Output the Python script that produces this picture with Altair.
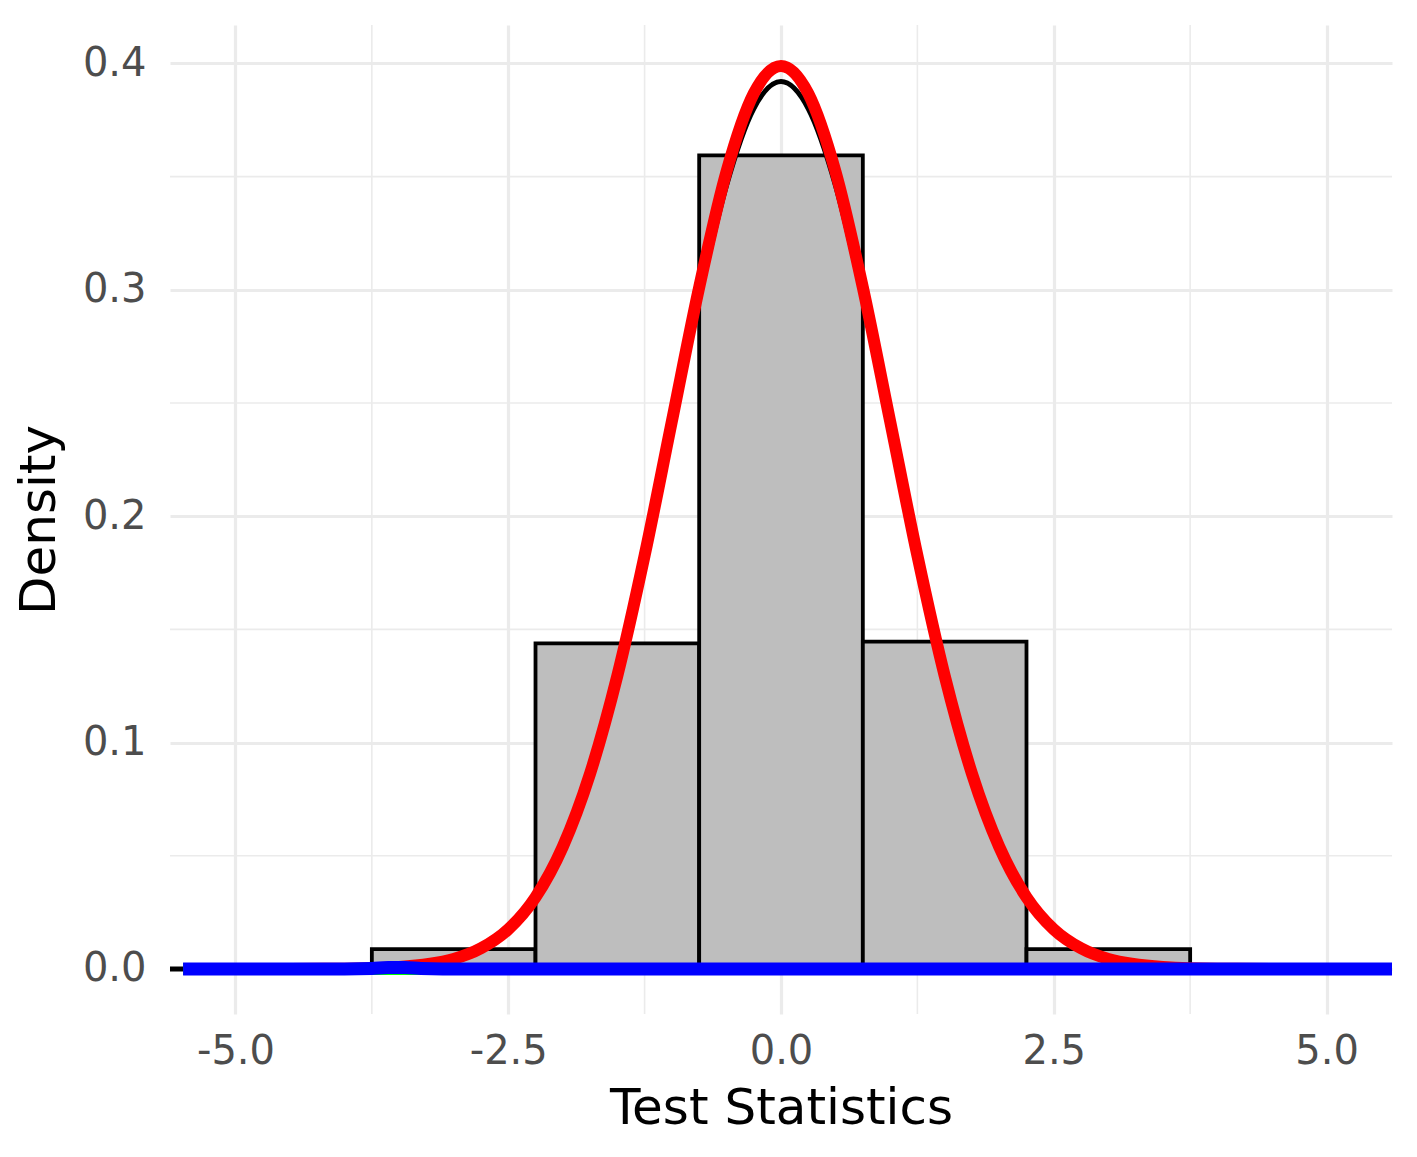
import altair as alt
import pandas as pd

# Histogram bins (Test Statistics) and densities
bin_left = [-3.75, -2.25, -0.75, 0.75, 2.25]
bin_right = [-2.25, -0.75, 0.75, 2.25, 3.75]
bin_density = [0.0088, 0.1438, 0.3594, 0.1446, 0.0088]

# Curve sample points
curve_x = [-4.5, -4.0, -3.5, -3.0, -2.75, -2.5, -2.25, -2.0, -1.75, -1.5, -1.25, -1.0, -0.75, -0.5, -0.25,
           0.0, 0.25, 0.5, 0.75, 1.0, 1.25, 1.5, 1.75, 2.0, 2.25, 2.5, 2.75, 3.0, 3.5, 4.0, 4.5]
red_y = [0.00002, 0.0001, 0.0009, 0.0044, 0.0091, 0.0175, 0.0317, 0.054, 0.0863, 0.1295, 0.1826, 0.242, 0.3011, 0.3521, 0.3867,
         0.3989, 0.3867, 0.3521, 0.3011, 0.242, 0.1826, 0.1295, 0.0863, 0.054, 0.0317, 0.0175, 0.0091, 0.0044, 0.0009, 0.0001, 0.00002]
black_y = [0.00002, 0.0002, 0.0012, 0.0050, 0.0095, 0.0178, 0.0318, 0.0538, 0.0855, 0.1280, 0.1800, 0.2385, 0.2960, 0.3460, 0.3800,
           0.3920, 0.3800, 0.3460, 0.2960, 0.2385, 0.1800, 0.1280, 0.0855, 0.0538, 0.0318, 0.0178, 0.0095, 0.0050, 0.0012, 0.0002, 0.00002]
red_ends = [-5.48, 5.6]
black_ends = [-5.6, 5.6]

blue_x = [-5.48, -4.0, -3.75, -3.6, -3.45, -3.3, -3.1, 5.6]
blue_y = [0.0, 0.0, 0.0002, 0.0006, 0.0006, 0.0002, 0.0, 0.0]
green_x = [-5.48, 5.6]
green_y = [0.0, 0.0]

x_major = [-5.0, -2.5, 0.0, 2.5, 5.0]
x_minor = [-3.75, -1.25, 1.25, 3.75]
y_major = [0.0, 0.1, 0.2, 0.3, 0.4]
y_minor = [0.05, 0.15, 0.25, 0.35]

X_DOMAIN = [-5.6, 5.6]
Y_DOMAIN = [-0.0199, 0.417]

xs = alt.Scale(domain=X_DOMAIN, nice=False, zero=False)
ys = alt.Scale(domain=Y_DOMAIN, nice=False, zero=False)

lab = "replace(format(datum.value, '.1f'), '\u2212', '-')"

hist_df = pd.DataFrame({"x": bin_left, "x2": bin_right, "y": bin_density, "y0": [0.0] * 5})
red_df = pd.DataFrame({"x": [red_ends[0]] + curve_x + [red_ends[1]], "y": [0.0] + red_y + [0.0]})
black_df = pd.DataFrame({"x": [black_ends[0]] + curve_x + [black_ends[1]], "y": [0.0] + black_y + [0.0]})
blue_df = pd.DataFrame({"x": blue_x, "y": blue_y})
green_df = pd.DataFrame({"x": green_x, "y": green_y})

xminor_df = pd.DataFrame({"v": x_minor})
yminor_df = pd.DataFrame({"v": y_minor})

GRID = "#ebebeb"

xminor = alt.Chart(xminor_df).mark_rule(color=GRID, strokeWidth=1.6).encode(
    x=alt.X("v:Q", scale=xs)
)
yminor = alt.Chart(yminor_df).mark_rule(color=GRID, strokeWidth=1.6).encode(
    y=alt.Y("v:Q", scale=ys)
)

hist = alt.Chart(hist_df).mark_rect(fill="#bebebe", stroke="black", strokeWidth=3.8).encode(
    x=alt.X("x:Q", scale=xs, title="Test Statistics",
            axis=alt.Axis(values=x_major, labelExpr=lab, grid=True)),
    x2="x2:Q",
    y=alt.Y("y:Q", scale=ys, title="Density",
            axis=alt.Axis(values=y_major, labelExpr=lab, grid=True)),
    y2="y0:Q",
)

black = alt.Chart(black_df).mark_line(color="black", strokeWidth=5, interpolate="monotone", strokeCap="butt").encode(
    x=alt.X("x:Q", scale=xs), y=alt.Y("y:Q", scale=ys)
)
red = alt.Chart(red_df).mark_line(color="#ff0000", strokeWidth=12, interpolate="monotone", strokeCap="butt").encode(
    x=alt.X("x:Q", scale=xs), y=alt.Y("y:Q", scale=ys)
)
green = alt.Chart(green_df).mark_line(color="#00ff00", strokeWidth=12, strokeCap="butt").encode(
    x=alt.X("x:Q", scale=xs), y=alt.Y("y:Q", scale=ys)
)
blue = alt.Chart(blue_df).mark_line(color="#0000ff", strokeWidth=13, interpolate="monotone", strokeCap="butt").encode(
    x=alt.X("x:Q", scale=xs), y=alt.Y("y:Q", scale=ys)
)

chart = alt.layer(xminor, yminor, hist, black, red, green, blue).properties(
    width=1222,
    height=989,
    autosize=alt.AutoSizeParams(type="none"),
    padding={"left": 162, "top": 17, "right": 8, "bottom": 125},
    background="white",
).configure_view(stroke=None).configure_axis(
    domain=False,
    ticks=False,
    gridColor=GRID,
    gridWidth=3.2,
    labelFont="DejaVu Sans",
    labelFontSize=40,
    labelColor="#4d4d4d",
    titleFont="DejaVu Sans",
    titleFontSize=50,
    titleFontWeight="normal",
    titleColor="black",
).configure_axisX(
    labelPadding=17,
    titlePadding=12,
).configure_axisY(
    labelPadding=24,
    titlePadding=18,
)

chart.save("out.html", embed_options={"renderer": "svg", "actions": False})
